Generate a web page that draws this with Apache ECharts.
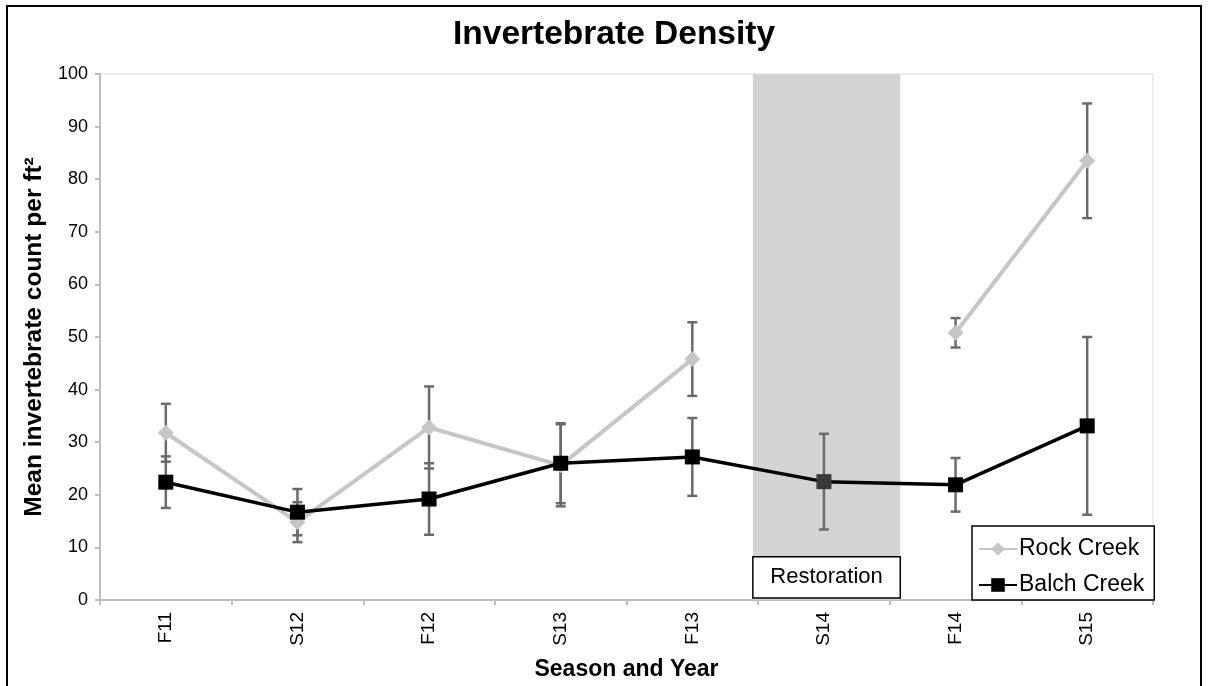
<!DOCTYPE html>
<html>
<head>
<meta charset="utf-8">
<script src="https://cdn.jsdelivr.net/npm/echarts@6/dist/echarts.min.js"></script>
<style>
html,body{margin:0;padding:0;background:#fff;}
#chart{width:1209px;height:686px;}
</style>
</head>
<body>
<div id="chart"></div>
<script>
var categories = ['F11','S12','F12','S13','F13','S14','F14','S15'];
var rockCreek = [31.8, 14.8, 32.8, 25.6, 45.8, null, 50.8, 83.5];
var rockErr   = [5.5, 3.8, 7.8, 7.8, 7.0, null, 2.8, 10.9];
var balchCreek = [22.4, 16.7, 19.2, 26.0, 27.2, 22.5, 21.9, 33.1];
var balchErr   = [4.9, 4.4, 6.8, 7.6, 7.4, 9.1, 5.1, 16.9];
var restorationSpan = [4.46, 5.58];   // in category-index units
var restorationBoxTop = 8.2;          // y value of label box top
var restorationLabel = 'Restoration';

var FONT = '"Liberation Sans", Arial, Helvetica, sans-serif';

function errData(vals, errs) {
  var out = [];
  for (var i = 0; i < vals.length; i++) {
    if (vals[i] != null && errs[i] != null) out.push([i, vals[i] - errs[i], vals[i] + errs[i]]);
  }
  return out;
}

function renderErr(params, api) {
  var x = api.value(0);
  var lo = api.coord([x, api.value(1)]);
  var hi = api.coord([x, api.value(2)]);
  var cap = 5;
  var st = {stroke: '#6a6a6a', lineWidth: 2.5};
  return {
    type: 'group',
    children: [
      {type: 'line', shape: {x1: lo[0], y1: lo[1], x2: hi[0], y2: hi[1]}, style: st},
      {type: 'line', shape: {x1: lo[0]-cap, y1: lo[1], x2: lo[0]+cap, y2: lo[1]}, style: st},
      {type: 'line', shape: {x1: hi[0]-cap, y1: hi[1], x2: hi[0]+cap, y2: hi[1]}, style: st}
    ]
  };
}

var balchData = balchCreek.map(function (v, i) {
  var inBand = i > restorationSpan[0] && i < restorationSpan[1];
  return inBand ? {value: v, itemStyle: {color: '#3a3a3a'}} : v;
});

var chart = echarts.init(document.getElementById('chart'));
chart.setOption({
  backgroundColor: '#fff',
  animation: false,
  title: {
    text: 'Invertebrate Density',
    left: 448, top: 13,
    textStyle: {fontFamily: FONT, fontSize: 33.5, fontWeight: 'bold', color: '#000'}
  },
  graphic: [{
    type: 'rect', z: 100,
    shape: {x: 7, y: 6, width: 1194, height: 700},
    style: {fill: 'none', stroke: '#000', lineWidth: 2}
  }],
  grid: {left: 100, right: 56, top: 74, bottom: 86, show: true, borderColor: '#dcdcdc', borderWidth: 1,
         backgroundColor: 'transparent', outerBoundsMode: 'none', containLabel: false},
  legend: {
    orient: 'vertical',
    left: 972, top: 526,
    padding: [11, 10, 3, 6],
    itemGap: 12,
    itemWidth: 38, itemHeight: 17,
    backgroundColor: '#fff',
    borderColor: '#000', borderWidth: 1.5,
    z: 50,
    textStyle: {fontFamily: FONT, fontSize: 23, color: '#000', lineHeight: 24, padding: [0,0,0,-3]},
    data: ['Rock Creek', 'Balch Creek']
  },
  xAxis: [{
    type: 'category',
    data: categories,
    boundaryGap: true,
    name: 'Season and Year',
    nameLocation: 'middle',
    nameGap: 58,
    nameTextStyle: {fontFamily: FONT, fontSize: 23, fontWeight: 'bold', color: '#000'},
    axisLine: {lineStyle: {color: '#bdbdbd', width: 2}},
    axisTick: {show: true, length: 5, lineStyle: {color: '#bdbdbd', width: 2}},
    axisLabel: {rotate: 90, margin: 12, fontFamily: FONT, fontSize: 19, color: '#000'},
    splitLine: {show: false}
  }, {
    type: 'value', min: -0.5, max: 7.5, show: false,
    axisLine: {onZero: false}
  }],
  yAxis: {
    type: 'value',
    min: 0, max: 100, interval: 10,
    name: 'Mean invertebrate count per ft²',
    nameLocation: 'middle',
    nameGap: 52,
    nameTextStyle: {fontFamily: FONT, fontSize: 24.5, fontWeight: 'bold', color: '#000'},
    axisLine: {show: true, onZero: false, lineStyle: {color: '#bdbdbd', width: 2}},
    axisTick: {show: true, length: 5, lineStyle: {color: '#bdbdbd', width: 2}},
    axisLabel: {margin: 12, fontFamily: FONT, fontSize: 18, color: '#000'},
    splitLine: {show: false}
  },
  series: [{
    type: 'custom',
    name: 'band',
    xAxisIndex: 1,
    z: 1,
    silent: true,
    data: [[restorationSpan[0], restorationSpan[1], restorationBoxTop]],
    renderItem: function (params, api) {
      var cs = params.coordSys;
      var a = api.coord([api.value(0), 0]);
      var b = api.coord([api.value(1), api.value(2)]);
      return {
        type: 'group',
        children: [
          {type: 'rect', shape: {x: a[0], y: cs.y, width: b[0]-a[0], height: cs.height}, style: {fill: '#d3d3d3'}},
          {type: 'rect', shape: {x: a[0], y: b[1], width: b[0]-a[0], height: a[1]-b[1]-2},
           style: {fill: '#fff', stroke: '#000', lineWidth: 1.5}},
          {type: 'text', style: {text: restorationLabel, x: (a[0]+b[0])/2, y: (a[1]+b[1])/2 - 1,
            align: 'center', verticalAlign: 'middle', font: '22px ' + FONT, fill: '#000'}}
        ]
      };
    }
  }, {
    type: 'custom', name: 'rockErr', z: 2, silent: true,
    data: errData(rockCreek, rockErr), renderItem: renderErr
  }, {
    type: 'custom', name: 'balchErr', z: 2, silent: true,
    data: errData(balchCreek, balchErr), renderItem: renderErr
  }, {
    type: 'line', name: 'Rock Creek', z: 3,
    data: rockCreek,
    connectNulls: false,
    symbol: 'diamond', symbolSize: 16,
    lineStyle: {color: '#c6c6c6', width: 4},
    itemStyle: {color: '#c6c6c6'}
  }, {
    type: 'line', name: 'Balch Creek', z: 4,
    data: balchData,
    symbol: 'rect', symbolSize: 15,
    lineStyle: {color: '#000', width: 3.5},
    itemStyle: {color: '#000'}
  }]
});
</script>
</body>
</html>
